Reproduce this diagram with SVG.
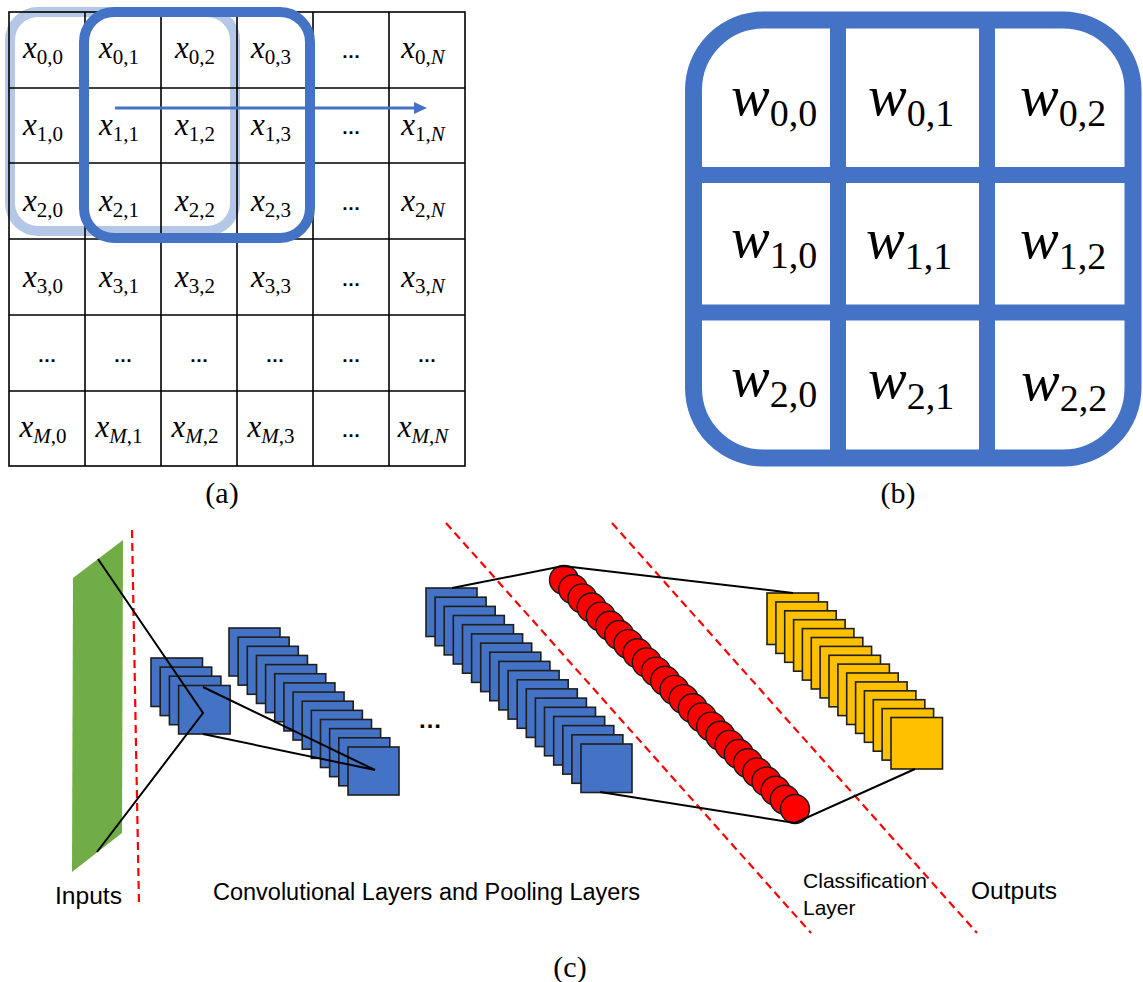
<svg xmlns="http://www.w3.org/2000/svg" width="1143" height="982" viewBox="0 0 1143 982">
<style>
.gl{stroke:#000;stroke-width:1.6;fill:none}
.mx{font-family:"Liberation Serif",serif;font-size:31px;text-anchor:middle;fill:#000}
.it{font-style:italic}
.sb{font-size:21px}
.el{font-family:"Liberation Sans",sans-serif;font-size:19px;font-weight:bold;text-anchor:middle;fill:#000}
.w{font-family:"Liberation Serif",serif;font-size:58px;fill:#000}
.ws{font-size:38px;font-style:normal}
.cap{font-family:"Liberation Serif",serif;font-size:30px;text-anchor:middle;fill:#000}
.lab{font-family:"Liberation Sans",sans-serif;fill:#000}
.bl{fill:#4472c4;stroke:#1f1f1f;stroke-width:1.6}
.yl{fill:#ffc000;stroke:#1f1f1f;stroke-width:1.6}
.rc{fill:#ff0000;stroke:#1a1a1a;stroke-width:1.4}
.cn{stroke:#000;stroke-width:2;fill:none}
.rd{stroke:#ff0000;stroke-width:2.2;stroke-dasharray:8 5;fill:none}
</style>

<!-- (a) input matrix -->
<g id="matrix-a">
  <rect x="10" y="12" width="225" height="219" rx="28" fill="none" stroke="#b4c7e7" stroke-width="10"/>
  <g class="gl">
    <rect x="9" y="12" width="456" height="454"/>
    <path d="M85 12V466M161 12V466M237 12V466M313 12V466M389 12V466"/>
    <path d="M9 88H465M9 163H465M9 239H465M9 315H465M9 391H465"/>
  </g>
  <rect x="84" y="12" width="226" height="226" rx="30" fill="none" stroke="#4472c4" stroke-width="10"/>
  <g id="stride-arrow">
    <line x1="115" y1="108" x2="416" y2="108" stroke="#4472c4" stroke-width="3"/>
    <polygon points="427,108 414,102 414,114" fill="#4472c4"/>
  </g>
  <g id="cells">
    <text class="mx" x="43" y="58"><tspan class="it">x</tspan><tspan class="sb" dy="6">0,0</tspan></text>
    <text class="mx" x="119" y="58"><tspan class="it">x</tspan><tspan class="sb" dy="6">0,1</tspan></text>
    <text class="mx" x="195" y="58"><tspan class="it">x</tspan><tspan class="sb" dy="6">0,2</tspan></text>
    <text class="mx" x="271" y="58"><tspan class="it">x</tspan><tspan class="sb" dy="6">0,3</tspan></text>
    <text class="el" x="351" y="58">…</text>
    <text class="mx" x="423" y="58"><tspan class="it">x</tspan><tspan class="sb" dy="6">0,<tspan class="it">N</tspan></tspan></text>

    <text class="mx" x="43" y="135"><tspan class="it">x</tspan><tspan class="sb" dy="6">1,0</tspan></text>
    <text class="mx" x="119" y="135"><tspan class="it">x</tspan><tspan class="sb" dy="6">1,1</tspan></text>
    <text class="mx" x="195" y="135"><tspan class="it">x</tspan><tspan class="sb" dy="6">1,2</tspan></text>
    <text class="mx" x="271" y="135"><tspan class="it">x</tspan><tspan class="sb" dy="6">1,3</tspan></text>
    <text class="el" x="351" y="134">…</text>
    <text class="mx" x="423" y="135"><tspan class="it">x</tspan><tspan class="sb" dy="6">1,<tspan class="it">N</tspan></tspan></text>

    <text class="mx" x="43" y="211"><tspan class="it">x</tspan><tspan class="sb" dy="6">2,0</tspan></text>
    <text class="mx" x="119" y="211"><tspan class="it">x</tspan><tspan class="sb" dy="6">2,1</tspan></text>
    <text class="mx" x="195" y="211"><tspan class="it">x</tspan><tspan class="sb" dy="6">2,2</tspan></text>
    <text class="mx" x="271" y="211"><tspan class="it">x</tspan><tspan class="sb" dy="6">2,3</tspan></text>
    <text class="el" x="351" y="210">…</text>
    <text class="mx" x="423" y="211"><tspan class="it">x</tspan><tspan class="sb" dy="6">2,<tspan class="it">N</tspan></tspan></text>

    <text class="mx" x="43" y="287"><tspan class="it">x</tspan><tspan class="sb" dy="6">3,0</tspan></text>
    <text class="mx" x="119" y="287"><tspan class="it">x</tspan><tspan class="sb" dy="6">3,1</tspan></text>
    <text class="mx" x="195" y="287"><tspan class="it">x</tspan><tspan class="sb" dy="6">3,2</tspan></text>
    <text class="mx" x="271" y="287"><tspan class="it">x</tspan><tspan class="sb" dy="6">3,3</tspan></text>
    <text class="el" x="351" y="286">…</text>
    <text class="mx" x="423" y="287"><tspan class="it">x</tspan><tspan class="sb" dy="6">3,<tspan class="it">N</tspan></tspan></text>

    <text class="el" x="47" y="362">…</text>
    <text class="el" x="123" y="362">…</text>
    <text class="el" x="199" y="362">…</text>
    <text class="el" x="275" y="362">…</text>
    <text class="el" x="351" y="362">…</text>
    <text class="el" x="427" y="362">…</text>

    <text class="mx" x="43" y="437"><tspan class="it">x</tspan><tspan class="sb" dy="6"><tspan class="it">M</tspan>,0</tspan></text>
    <text class="mx" x="119" y="437"><tspan class="it">x</tspan><tspan class="sb" dy="6"><tspan class="it">M</tspan>,1</tspan></text>
    <text class="mx" x="195" y="437"><tspan class="it">x</tspan><tspan class="sb" dy="6"><tspan class="it">M</tspan>,2</tspan></text>
    <text class="mx" x="271" y="437"><tspan class="it">x</tspan><tspan class="sb" dy="6"><tspan class="it">M</tspan>,3</tspan></text>
    <text class="el" x="351" y="437">…</text>
    <text class="mx" x="423" y="437"><tspan class="it">x</tspan><tspan class="sb" dy="6"><tspan class="it">M</tspan>,<tspan class="it">N</tspan></tspan></text>
  </g>
  <text class="cap" x="222" y="503">(a)</text>
</g>

<!-- (b) kernel -->
<g id="kernel-b">
  <rect x="693.5" y="20" width="439.5" height="438" rx="70" fill="none" stroke="#4472c4" stroke-width="17"/>
  <path d="M838 20V458M987 20V458M693 175H1133M693 312.5H1133" stroke="#4472c4" stroke-width="16" fill="none"/>
  <text class="w" x="731" y="115"><tspan class="it">w</tspan><tspan class="ws" dy="11">0,0</tspan></text>
  <text class="w" x="868" y="115"><tspan class="it">w</tspan><tspan class="ws" dy="11">0,1</tspan></text>
  <text class="w" x="1020" y="115"><tspan class="it">w</tspan><tspan class="ws" dy="11">0,2</tspan></text>
  <text class="w" x="731" y="257"><tspan class="it">w</tspan><tspan class="ws" dy="11">1,0</tspan></text>
  <text class="w" x="866" y="258"><tspan class="it">w</tspan><tspan class="ws" dy="11">1,1</tspan></text>
  <text class="w" x="1020" y="258"><tspan class="it">w</tspan><tspan class="ws" dy="11">1,2</tspan></text>
  <text class="w" x="731" y="396"><tspan class="it">w</tspan><tspan class="ws" dy="11">2,0</tspan></text>
  <text class="w" x="868" y="398"><tspan class="it">w</tspan><tspan class="ws" dy="11">2,1</tspan></text>
  <text class="w" x="1021" y="400"><tspan class="it">w</tspan><tspan class="ws" dy="11">2,2</tspan></text>
  <text class="cap" x="898" y="503">(b)</text>
</g>

<!-- (c) CNN -->
<g id="separators">
  <line class="rd" x1="132" y1="530" x2="139" y2="905"/>
  <line class="rd" x1="446" y1="523" x2="811" y2="933"/>
  <line class="rd" x1="612" y1="523" x2="977" y2="933"/>
</g>

<g id="inputs">
  <polygon points="73,578 123,540 122,833 72,872" fill="#70ad47"/>
</g>

<g id="conv1">
  <rect class="bl" x="151" y="658" width="51.5" height="48.5"/>
  <rect class="bl" x="160.2" y="667.1" width="51.5" height="48.5"/>
  <rect class="bl" x="169.4" y="676.2" width="51.5" height="48.5"/>
  <rect class="bl" x="178.6" y="685.5" width="51.5" height="48.5"/>
</g>

<g id="conv2">
  <rect class="bl" x="229" y="628" width="51" height="48"/>
  <rect class="bl" x="238.15" y="637.15" width="51" height="48"/>
  <rect class="bl" x="247.3" y="646.3" width="51" height="48"/>
  <rect class="bl" x="256.45" y="655.45" width="51" height="48"/>
  <rect class="bl" x="265.6" y="664.6" width="51" height="48"/>
  <rect class="bl" x="274.75" y="673.75" width="51" height="48"/>
  <rect class="bl" x="283.9" y="682.9" width="51" height="48"/>
  <rect class="bl" x="293.05" y="692.05" width="51" height="48"/>
  <rect class="bl" x="302.2" y="701.2" width="51" height="48"/>
  <rect class="bl" x="311.35" y="710.35" width="51" height="48"/>
  <rect class="bl" x="320.5" y="719.5" width="51" height="48"/>
  <rect class="bl" x="329.65" y="728.65" width="51" height="48"/>
  <rect class="bl" x="338.8" y="737.8" width="51" height="48"/>
  <rect class="bl" x="348" y="747" width="51" height="48"/>
</g>

<g id="ellipsis">
  <text class="el" x="430" y="728" style="font-size:24px">…</text>
</g>

<g id="conv3">
  <rect class="bl" x="426" y="588" width="51" height="48.5"/>
  <rect class="bl" x="435.1" y="597.2" width="51" height="48.5"/>
  <rect class="bl" x="444.2" y="606.4" width="51" height="48.5"/>
  <rect class="bl" x="453.3" y="615.5" width="51" height="48.5"/>
  <rect class="bl" x="462.5" y="624.7" width="51" height="48.5"/>
  <rect class="bl" x="471.6" y="633.9" width="51" height="48.5"/>
  <rect class="bl" x="480.7" y="643.1" width="51" height="48.5"/>
  <rect class="bl" x="489.8" y="652.2" width="51" height="48.5"/>
  <rect class="bl" x="498.9" y="661.4" width="51" height="48.5"/>
  <rect class="bl" x="508.1" y="670.6" width="51" height="48.5"/>
  <rect class="bl" x="517.2" y="679.8" width="51" height="48.5"/>
  <rect class="bl" x="526.3" y="688.9" width="51" height="48.5"/>
  <rect class="bl" x="535.4" y="698.1" width="51" height="48.5"/>
  <rect class="bl" x="544.5" y="707.3" width="51" height="48.5"/>
  <rect class="bl" x="553.7" y="716.5" width="51" height="48.5"/>
  <rect class="bl" x="562.8" y="725.6" width="51" height="48.5"/>
  <rect class="bl" x="571.9" y="734.8" width="51" height="48.5"/>
  <rect class="bl" x="581" y="744" width="51" height="48.5"/>
</g>

<g id="classification">
  <circle class="rc" cx="564" cy="580" r="14.5"/>
  <circle class="rc" cx="573.2" cy="589.2" r="14.5"/>
  <circle class="rc" cx="582.4" cy="598.4" r="14.5"/>
  <circle class="rc" cx="591.6" cy="607.5" r="14.5"/>
  <circle class="rc" cx="600.8" cy="616.6" r="14.5"/>
  <circle class="rc" cx="610" cy="625.8" r="14.5"/>
  <circle class="rc" cx="619.2" cy="635" r="14.5"/>
  <circle class="rc" cx="628.4" cy="644.1" r="14.5"/>
  <circle class="rc" cx="637.6" cy="653.3" r="14.5"/>
  <circle class="rc" cx="646.8" cy="662.4" r="14.5"/>
  <circle class="rc" cx="656" cy="671.6" r="14.5"/>
  <circle class="rc" cx="665.2" cy="680.8" r="14.5"/>
  <circle class="rc" cx="674.4" cy="689.9" r="14.5"/>
  <circle class="rc" cx="683.6" cy="699.1" r="14.5"/>
  <circle class="rc" cx="692.8" cy="708.2" r="14.5"/>
  <circle class="rc" cx="702" cy="717.4" r="14.5"/>
  <circle class="rc" cx="711.2" cy="726.6" r="14.5"/>
  <circle class="rc" cx="720.4" cy="735.7" r="14.5"/>
  <circle class="rc" cx="729.6" cy="744.9" r="14.5"/>
  <circle class="rc" cx="738.8" cy="754" r="14.5"/>
  <circle class="rc" cx="748" cy="763.2" r="14.5"/>
  <circle class="rc" cx="757.2" cy="772.4" r="14.5"/>
  <circle class="rc" cx="766.4" cy="781.5" r="14.5"/>
  <circle class="rc" cx="775.6" cy="790.7" r="14.5"/>
  <circle class="rc" cx="784.8" cy="799.8" r="14.5"/>
  <circle class="rc" cx="795" cy="809" r="14.5"/>
</g>

<g id="outputs">
  <rect class="yl" x="767" y="593" width="51.5" height="51.5"/>
  <rect class="yl" x="775.9" y="601.9" width="51.5" height="51.5"/>
  <rect class="yl" x="784.7" y="610.8" width="51.5" height="51.5"/>
  <rect class="yl" x="793.6" y="619.7" width="51.5" height="51.5"/>
  <rect class="yl" x="802.4" y="628.6" width="51.5" height="51.5"/>
  <rect class="yl" x="811.3" y="637.5" width="51.5" height="51.5"/>
  <rect class="yl" x="820.1" y="646.4" width="51.5" height="51.5"/>
  <rect class="yl" x="829" y="655.3" width="51.5" height="51.5"/>
  <rect class="yl" x="837.9" y="664.1" width="51.5" height="51.5"/>
  <rect class="yl" x="846.7" y="673" width="51.5" height="51.5"/>
  <rect class="yl" x="855.6" y="681.9" width="51.5" height="51.5"/>
  <rect class="yl" x="864.4" y="690.8" width="51.5" height="51.5"/>
  <rect class="yl" x="873.3" y="699.7" width="51.5" height="51.5"/>
  <rect class="yl" x="882.1" y="708.6" width="51.5" height="51.5"/>
  <rect class="yl" x="891" y="717.5" width="51.5" height="51.5"/>
</g>

<g id="connectors">
  <polyline class="cn" points="98,559 203,713 97,852"/>
  <polyline class="cn" points="203,687 375,770 203,734"/>
  <polyline class="cn" points="452,588 563,566 793,593"/>
  <polyline class="cn" points="600,792 795,823 915,769"/>
</g>

<g id="labels">
  <text class="lab" x="55" y="904" font-size="24" textLength="67" lengthAdjust="spacingAndGlyphs">Inputs</text>
  <text class="lab" x="213" y="900" font-size="23.5" textLength="427" lengthAdjust="spacingAndGlyphs">Convolutional Layers and Pooling Layers</text>
  <text class="lab" x="803" y="888" font-size="21" textLength="124" lengthAdjust="spacingAndGlyphs">Classification</text>
  <text class="lab" x="803" y="915" font-size="21">Layer</text>
  <text class="lab" x="971" y="899" font-size="24.5" textLength="86" lengthAdjust="spacingAndGlyphs">Outputs</text>
  <text class="cap" x="570" y="977">(c)</text>
</g>
</svg>
